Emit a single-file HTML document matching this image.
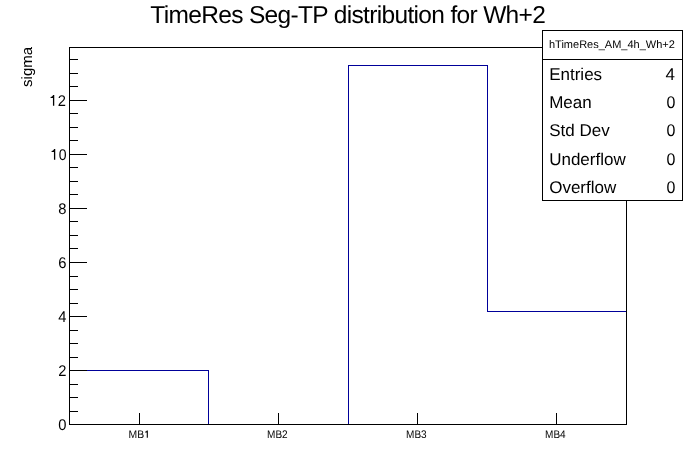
<!DOCTYPE html>
<html><head><meta charset="utf-8"><style>
html,body{margin:0;padding:0;background:#fff;width:696px;height:472px;overflow:hidden}
svg{display:block;will-change:transform}
text{font-family:"Liberation Sans",sans-serif;fill:#000;text-rendering:geometricPrecision}
</style></head><body>
<svg width="696" height="472" viewBox="0 0 696 472">
<rect x="0" y="0" width="696" height="472" fill="#fff"/>
<rect x="69" y="370" width="140" height="1" fill="#000099"/>
<rect x="208" y="370" width="1" height="55" fill="#000099"/>
<rect x="348" y="65" width="1" height="360" fill="#000099"/>
<rect x="348" y="65" width="140" height="1" fill="#000099"/>
<rect x="487" y="65" width="1" height="247" fill="#000099"/>
<rect x="487" y="311" width="140" height="1" fill="#000099"/>
<rect x="69" y="47" width="558" height="1" fill="#000"/>
<rect x="69" y="424" width="558" height="1" fill="#000"/>
<rect x="69" y="47" width="1" height="378" fill="#000"/>
<rect x="626" y="47" width="1" height="378" fill="#000"/>
<rect x="69" y="424" width="18" height="1" fill="#000"/>
<rect x="69" y="411" width="9" height="1" fill="#000"/>
<rect x="69" y="397" width="9" height="1" fill="#000"/>
<rect x="69" y="384" width="9" height="1" fill="#000"/>
<rect x="69" y="370" width="18" height="1" fill="#000"/>
<rect x="69" y="357" width="9" height="1" fill="#000"/>
<rect x="69" y="343" width="9" height="1" fill="#000"/>
<rect x="69" y="330" width="9" height="1" fill="#000"/>
<rect x="69" y="316" width="18" height="1" fill="#000"/>
<rect x="69" y="303" width="9" height="1" fill="#000"/>
<rect x="69" y="289" width="9" height="1" fill="#000"/>
<rect x="69" y="276" width="9" height="1" fill="#000"/>
<rect x="69" y="262" width="18" height="1" fill="#000"/>
<rect x="69" y="248" width="9" height="1" fill="#000"/>
<rect x="69" y="235" width="9" height="1" fill="#000"/>
<rect x="69" y="221" width="9" height="1" fill="#000"/>
<rect x="69" y="208" width="18" height="1" fill="#000"/>
<rect x="69" y="194" width="9" height="1" fill="#000"/>
<rect x="69" y="181" width="9" height="1" fill="#000"/>
<rect x="69" y="167" width="9" height="1" fill="#000"/>
<rect x="69" y="154" width="18" height="1" fill="#000"/>
<rect x="69" y="140" width="9" height="1" fill="#000"/>
<rect x="69" y="127" width="9" height="1" fill="#000"/>
<rect x="69" y="113" width="9" height="1" fill="#000"/>
<rect x="69" y="100" width="18" height="1" fill="#000"/>
<rect x="69" y="86" width="9" height="1" fill="#000"/>
<rect x="69" y="73" width="9" height="1" fill="#000"/>
<rect x="69" y="59" width="9" height="1" fill="#000"/>
<rect x="139" y="413" width="1" height="11" fill="#000"/>
<rect x="278" y="413" width="1" height="11" fill="#000"/>
<rect x="417" y="413" width="1" height="11" fill="#000"/>
<rect x="556" y="413" width="1" height="11" fill="#000"/>
<text x="66.4" y="429.7" font-size="15.5" text-anchor="end" textLength="8.2" lengthAdjust="spacingAndGlyphs">0</text>
<text x="66.4" y="375.7" font-size="15.5" text-anchor="end" textLength="8.2" lengthAdjust="spacingAndGlyphs">2</text>
<text x="66.4" y="321.7" font-size="15.5" text-anchor="end" textLength="8.2" lengthAdjust="spacingAndGlyphs">4</text>
<text x="66.4" y="267.7" font-size="15.5" text-anchor="end" textLength="8.2" lengthAdjust="spacingAndGlyphs">6</text>
<text x="66.4" y="213.7" font-size="15.5" text-anchor="end" textLength="8.2" lengthAdjust="spacingAndGlyphs">8</text>
<text x="66.5" y="159.7" font-size="15.5" text-anchor="end" textLength="7.8" lengthAdjust="spacingAndGlyphs">0</text>
<path d="M55.25,149.10 L55.25,159.70 L53.95,159.70 L53.95,152.00 L51.60,152.00 L51.60,150.90 C53.00,150.90 53.95,150.10 53.95,149.10 Z" fill="#000"/>
<text x="65.85" y="105.7" font-size="15.5" text-anchor="end" textLength="8.2" lengthAdjust="spacingAndGlyphs">2</text>
<path d="M54.25,95.10 L54.25,105.70 L52.95,105.70 L52.95,98.00 L50.60,98.00 L50.60,96.90 C52.00,96.90 52.95,96.10 52.95,95.10 Z" fill="#000"/>
<text x="277.4" y="437.8" font-size="11.0" text-anchor="middle" textLength="20.6" lengthAdjust="spacingAndGlyphs">MB2</text>
<text x="416.4" y="437.8" font-size="11.0" text-anchor="middle" textLength="20.6" lengthAdjust="spacingAndGlyphs">MB3</text>
<text x="555.4" y="437.8" font-size="11.0" text-anchor="middle" textLength="20.6" lengthAdjust="spacingAndGlyphs">MB4</text>
<text x="128.6" y="437.8" font-size="11.0" textLength="15.6" lengthAdjust="spacingAndGlyphs">MB</text>
<path d="M147.85,430.50 L147.85,437.80 L146.75,437.80 L146.75,432.50 L145.10,432.50 L145.10,431.70 C146.10,431.70 146.75,431.20 146.75,430.50 Z" fill="#000"/>
<rect x="542" y="30" width="141" height="171" fill="#fff"/>
<rect x="542" y="30" width="141" height="1" fill="#000"/>
<rect x="542" y="200" width="141" height="1" fill="#000"/>
<rect x="542" y="30" width="1" height="171" fill="#000"/>
<rect x="682" y="30" width="1" height="171" fill="#000"/>
<rect x="542" y="59" width="141" height="1" fill="#000"/>
<text x="549" y="48" font-size="11">hTimeRes_AM_4h_Wh+2</text>
<text x="549.2" y="80" font-size="17">Entries</text>
<text x="675" y="80" font-size="17" text-anchor="end">4</text>
<text x="549.2" y="108" font-size="17">Mean</text>
<text x="675.4" y="108" font-size="17" text-anchor="end" textLength="8.9" lengthAdjust="spacingAndGlyphs">0</text>
<text x="549.2" y="136" font-size="17">Std Dev</text>
<text x="675.4" y="136" font-size="17" text-anchor="end" textLength="8.9" lengthAdjust="spacingAndGlyphs">0</text>
<text x="549.2" y="165" font-size="17">Underflow</text>
<text x="675.4" y="165" font-size="17" text-anchor="end" textLength="8.9" lengthAdjust="spacingAndGlyphs">0</text>
<text x="549.2" y="193" font-size="17">Overflow</text>
<text x="675.4" y="193" font-size="17" text-anchor="end" textLength="8.9" lengthAdjust="spacingAndGlyphs">0</text>
<text x="348.1" y="23" font-size="24.5" text-anchor="middle" textLength="395.5" lengthAdjust="spacing">TimeRes Seg-TP distribution for Wh+2</text>
<text transform="translate(32,66.9) rotate(-90)" text-anchor="middle" font-size="15" textLength="40.0" lengthAdjust="spacing">sigma</text>
</svg>
</body></html>
